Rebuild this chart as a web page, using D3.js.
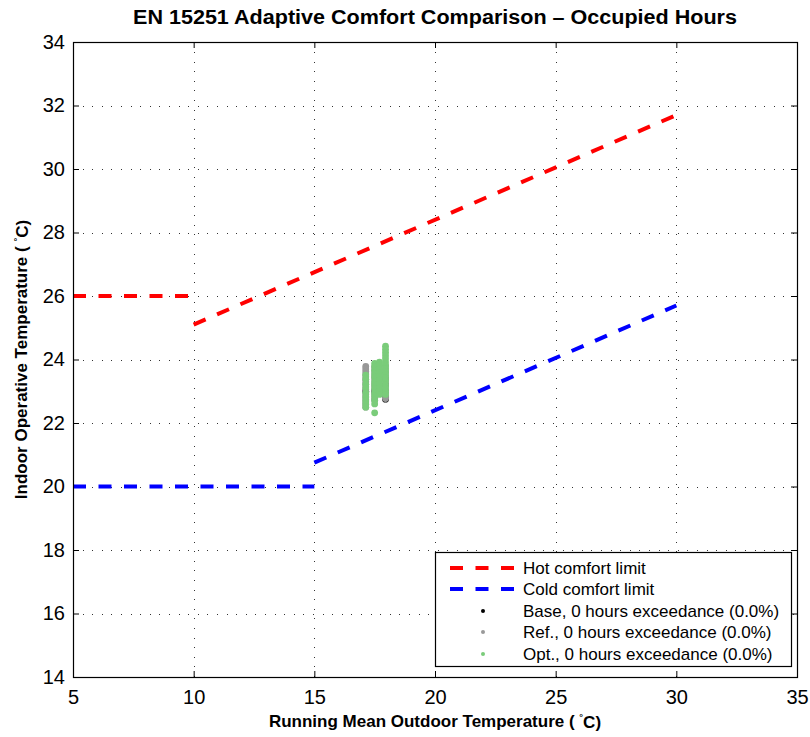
<!DOCTYPE html>
<html>
<head>
<meta charset="utf-8">
<script src="https://cdn.jsdelivr.net/npm/d3@7"></script>
<style>
  body { margin: 0; background: #fff; }
  svg { display: block; font-family: "Liberation Sans", Arial, Helvetica, sans-serif; }
</style>
</head>
<body>
<svg id="chart" width="810" height="737"></svg>
<script>
// ---- Data ----
const xTicks = [5, 10, 15, 20, 25, 30, 35];
const yTicks = [14, 16, 18, 20, 22, 24, 26, 28, 30, 32, 34];

const hotFlatX = [5, 10],   hotFlatY = [26, 26];
const hotSlopeX = [10, 30], hotSlopeY = [25.1, 31.7];
const coldFlatX = [5, 15],  coldFlatY = [20, 20];
const coldSlopeX = [15, 30], coldSlopeY = [20.75, 25.7];

const basePoints = [
  [17.95, 23.40], [17.95, 23.20], [17.95, 23.00], [17.95, 22.85], [17.95, 22.75],
  [17.13, 23.00], [17.50, 23.00]
];
const refPoints = [
  [17.13, 23.78], [17.13, 23.70], [17.13, 23.62], [17.13, 23.54], [17.13, 23.46], [17.13, 23.38],
  [17.13, 23.30], [17.13, 23.22], [17.13, 23.14], [17.13, 23.06], [17.13, 22.98], [17.13, 22.90],
  [17.13, 22.82], [17.13, 22.74], [17.13, 22.66], [17.13, 22.58], [17.13, 22.50],
  [17.50, 23.78], [17.50, 23.70], [17.50, 23.62], [17.50, 23.52], [17.50, 23.44], [17.50, 23.36],
  [17.50, 23.26], [17.50, 23.18], [17.50, 23.10], [17.50, 23.02], [17.50, 22.94], [17.50, 22.86],
  [17.50, 22.78], [17.50, 22.72],
  [17.95, 23.80], [17.95, 23.70], [17.95, 23.60], [17.95, 23.50], [17.95, 23.40], [17.95, 23.30],
  [17.95, 23.20], [17.95, 23.10], [17.95, 23.00], [17.95, 22.90], [17.95, 22.82], [17.95, 22.77]
];
const optPoints = [
  [17.13, 23.51], [17.13, 23.38], [17.13, 23.22], [17.13, 23.10], [17.13, 22.95], [17.13, 22.82],
  [17.13, 22.70], [17.13, 22.60], [17.13, 22.50],
  [17.50, 23.88], [17.50, 23.78], [17.50, 23.66], [17.50, 23.55], [17.50, 23.45], [17.50, 23.30],
  [17.50, 23.20], [17.50, 23.08], [17.50, 22.95], [17.50, 22.85], [17.50, 22.72], [17.50, 22.60],
  [17.50, 22.32],
  [17.70, 23.92], [17.70, 23.82], [17.70, 23.70], [17.70, 23.58], [17.70, 23.46], [17.70, 23.35],
  [17.70, 23.22], [17.70, 23.10], [17.70, 23.00], [17.70, 22.90],
  [17.95, 24.42], [17.95, 24.32], [17.95, 24.22], [17.95, 24.12], [17.95, 24.02], [17.95, 23.92],
  [17.95, 23.82], [17.95, 23.72], [17.95, 23.62], [17.95, 23.52], [17.95, 23.42], [17.95, 23.32],
  [17.95, 23.20], [17.95, 23.10], [17.95, 23.00], [17.95, 22.90]
];

const legendLabels = [
  "Hot comfort limit",
  "Cold comfort limit",
  "Base, 0 hours exceedance (0.0%)",
  "Ref., 0 hours exceedance (0.0%)",
  "Opt., 0 hours exceedance (0.0%)"
];

// ---- Layout ----
const L = 73, R = 797, T = 42, B = 677;
const svg = d3.select("#chart");
const x = d3.scaleLinear().domain([5, 35]).range([L, R]);
const y = d3.scaleLinear().domain([14, 34]).range([B, T]);

const HOT = "#ff0000", COLD = "#0000ff", BASE = "#000000", REF = "#999999", OPT = "#7acc7a";

// Grid (dotted)
const grid = svg.append("g").attr("stroke", "#333").attr("stroke-width", 1)
  .attr("stroke-dasharray", "1,8.6").attr("shape-rendering", "crispEdges");
grid.selectAll("line.gx").data(xTicks.slice(1, -1)).enter().append("line")
  .attr("x1", d => Math.round(x(d)) + 0.5).attr("x2", d => Math.round(x(d)) + 0.5)
  .attr("y1", B).attr("y2", T);
grid.selectAll("line.gy").data(yTicks.slice(1, -1)).enter().append("line")
  .attr("y1", d => Math.round(y(d)) + 0.5).attr("y2", d => Math.round(y(d)) + 0.5)
  .attr("x1", L).attr("x2", R);

// Axes with inward ticks
const axB = d3.axisBottom(x).tickValues(xTicks).tickSize(-6).tickPadding(13).tickFormat(d3.format("d"));
const axT = d3.axisTop(x).tickValues(xTicks).tickSize(-6).tickFormat("");
const axLft = d3.axisLeft(y).tickValues(yTicks).tickSize(-6).tickPadding(8).tickFormat(d3.format("d"));
const axRt = d3.axisRight(y).tickValues(yTicks).tickSize(-6).tickFormat("");

function styleAxis(g) {
  g.select(".domain").remove();
  g.selectAll(".tick line").attr("stroke", "#000");
  g.selectAll(".tick text").attr("font-size", 20).attr("fill", "#000")
    .attr("font-family", "'Liberation Sans', Arial, sans-serif");
}
svg.append("g").attr("transform", `translate(0,${B})`).call(axB).call(styleAxis);
svg.append("g").attr("transform", `translate(0,${T})`).call(axT).call(styleAxis);
svg.append("g").attr("transform", `translate(${L},0)`).call(axLft).call(styleAxis);
svg.append("g").attr("transform", `translate(${R},0)`).call(axRt).call(styleAxis);

// Comfort limit lines
const line = d3.line().x(d => x(d[0])).y(d => y(d[1]));
function drawLine(xs, ys, color) {
  svg.append("path").datum(xs.map((v, i) => [v, ys[i]]))
    .attr("d", line).attr("fill", "none").attr("stroke", color)
    .attr("stroke-width", 4).attr("stroke-dasharray", "13,12.5");
}
drawLine(hotFlatX, hotFlatY, HOT);
drawLine(hotSlopeX, hotSlopeY, HOT);
drawLine(coldFlatX, coldFlatY, COLD);
drawLine(coldSlopeX, coldSlopeY, COLD);

// Scatter
function drawPts(pts, color) {
  svg.append("g").selectAll("circle").data(pts).enter().append("circle")
    .attr("cx", d => x(d[0])).attr("cy", d => y(d[1])).attr("r", 3.4).attr("fill", color);
}
drawPts(basePoints, BASE);
drawPts(refPoints, REF);
drawPts(optPoints, OPT);

// Frame
svg.append("rect").attr("x", L + 0.5).attr("y", T + 0.5).attr("width", R - L).attr("height", B - T)
  .attr("fill", "none").attr("stroke", "#000").attr("stroke-width", 1.2);

// Legend
const lg = svg.append("g");
lg.append("rect").attr("x", 435.5).attr("y", 552.5).attr("width", 356).attr("height", 114)
  .attr("fill", "#fff").attr("stroke", "#000").attr("stroke-width", 1.2);
const rowsY = [568, 589, 611, 632, 654];
const legendColors = [HOT, COLD, BASE, REF, OPT];
legendLabels.forEach((lab, i) => {
  if (i < 2) {
    lg.append("line").attr("x1", 450).attr("x2", 514).attr("y1", rowsY[i]).attr("y2", rowsY[i])
      .attr("stroke", legendColors[i]).attr("stroke-width", 4).attr("stroke-dasharray", "13,12.5");
  } else {
    lg.append("circle").attr("cx", 483).attr("cy", rowsY[i]).attr("r", 2).attr("fill", legendColors[i]);
  }
  lg.append("text").attr("x", 523).attr("y", rowsY[i]).attr("dy", "0.35em")
    .attr("font-size", 17).attr("fill", "#000").text(lab);
});

// Title
svg.append("text").attr("x", (L + R) / 2).attr("y", 24).attr("text-anchor", "middle")
  .attr("font-size", 20).attr("font-weight", "bold")
  .attr("textLength", 604).attr("lengthAdjust", "spacingAndGlyphs")
  .text("EN 15251 Adaptive Comfort Comparison \u2013 Occupied Hours");

// Axis labels with superscript degree
function degLabel(sel, pre) {
  sel.append("tspan").text(pre + "( ");
  sel.append("tspan").attr("font-size", "0.55em").attr("dy", "-0.75em").text("\u00B0");
  sel.append("tspan").attr("dy", "0.45em").text("C)");
}
const xl = svg.append("text").attr("x", (L + R) / 2).attr("y", 727).attr("text-anchor", "middle")
  .attr("font-size", 17).attr("font-weight", "bold");
degLabel(xl, "Running Mean Outdoor Temperature ");
const yl = svg.append("text").attr("transform", `translate(27,${(T + B) / 2}) rotate(-90)`)
  .attr("text-anchor", "middle").attr("font-size", 17).attr("font-weight", "bold");
degLabel(yl, "Indoor Operative Temperature ");
</script>
</body>
</html>
